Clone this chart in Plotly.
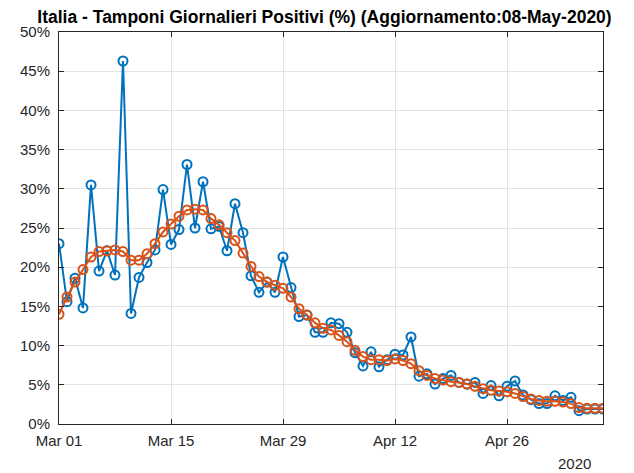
import pandas as pd
import plotly.graph_objects as go

start_date = "2020-03-01"
end_date = "2020-05-08"

daily_positive_pct = [
    23.0, 15.6, 18.6, 14.8, 30.5, 19.5, 22.1, 19.0, 46.3, 14.1,
    18.7, 20.6, 22.2, 29.9, 22.9, 24.8, 33.1, 25.0, 30.9, 24.9,
    25.2, 22.1, 28.1, 24.4, 18.9, 16.8, 18.1, 16.8, 21.3, 17.4,
    13.7, 13.9, 11.7, 11.7, 12.9, 12.8, 11.7, 9.1, 7.4, 9.2,
    7.3, 8.2, 8.9, 8.8, 11.1, 6.1, 6.4, 5.1, 5.8, 6.2,
    5.3, 5.1, 5.3, 3.9, 4.9, 3.6, 4.8, 5.5, 3.7, 3.1,
    2.6, 2.6, 3.6, 3.0, 3.4, 1.7, 1.9, 1.9, 1.9,
]

smoothed_pct = [
    14.0, 16.2, 18.1, 19.7, 21.3, 22.0, 22.1, 22.2, 22.0, 20.9,
    20.9, 21.7, 23.0, 24.5, 25.5, 26.5, 27.3, 27.4, 27.3, 26.2,
    25.4, 24.4, 23.4, 21.8, 20.1, 18.8, 18.1, 17.7, 17.3, 16.2,
    14.7, 13.9, 12.9, 12.2, 12.0, 11.3, 10.5, 9.4, 8.6, 8.2,
    8.2, 8.1, 8.3, 8.1, 7.7, 6.8, 6.2, 5.8, 5.6, 5.4,
    5.3, 5.1, 4.8, 4.5, 4.3, 4.2, 4.1, 3.9, 3.5, 3.2,
    3.0, 2.9, 2.9, 2.8, 2.6, 2.1, 2.0, 2.0, 2.0,
]

x_tick_dates = ["2020-03-01", "2020-03-15", "2020-03-29", "2020-04-12", "2020-04-26"]
x_tick_labels = ["Mar 01", "Mar 15", "Mar 29", "Apr 12", "Apr 26"]
y_tick_vals = [0, 5, 10, 15, 20, 25, 30, 35, 40, 45, 50]
y_tick_labels = [f"{v}%" for v in y_tick_vals]

dates = pd.date_range(start_date, end_date, freq="D")

BLUE = "#0072BD"
ORANGE = "#D95319"
AXC = "#262626"
GRID = "#e3e3e3"
FONT = "Liberation Sans, Arial, Helvetica, sans-serif"

# the page body has an 8px margin, so the figure is sized/placed to compensate
W, H = 626, 465

fig = go.Figure()
fig.add_trace(go.Scatter(
    x=dates, y=daily_positive_pct, mode="lines+markers",
    line=dict(color=BLUE, width=2),
    marker=dict(symbol="circle-open", size=9, color=BLUE, line=dict(width=2, color=BLUE)),
    showlegend=False,
))
fig.add_trace(go.Scatter(
    x=dates, y=smoothed_pct, mode="lines+markers",
    line=dict(color=ORANGE, width=2),
    marker=dict(symbol="circle-open", size=9, color=ORANGE, line=dict(width=2, color=ORANGE)),
    showlegend=False,
))

fig.update_layout(
    width=W, height=H,
    margin=dict(l=47, r=31, t=24, b=49, pad=0),
    paper_bgcolor="white", plot_bgcolor="white",
    font=dict(family=FONT, size=15, color=AXC),
    title=dict(
        text="<b>Italia - Tamponi Giornalieri Positivi (%) (Aggiornamento:08-May-2020)</b>",
        x=316.5 / W, xanchor="center", xref="container",
        y=1 - 9 / H, yanchor="middle", yref="container",
        font=dict(family=FONT, size=17.5, color="black"),
    ),
    xaxis=dict(
        range=[start_date, end_date],
        tickvals=x_tick_dates, ticktext=x_tick_labels,
        showgrid=True, gridcolor=GRID, gridwidth=1,
        showline=True, linecolor=AXC, linewidth=1, mirror="ticks",
        ticks="inside", ticklen=5, tickcolor=AXC,
        zeroline=False, ticklabelstandoff=3,
    ),
    yaxis=dict(
        range=[0, 50],
        tickvals=y_tick_vals, ticktext=y_tick_labels,
        showgrid=True, gridcolor=GRID, gridwidth=1,
        showline=True, linecolor=AXC, linewidth=1, mirror="ticks",
        ticks="inside", ticklen=5, tickcolor=AXC,
        zeroline=False, ticklabelstandoff=5,
    ),
    annotations=[dict(
        text="2020", x=(574 - 55) / 548, y=-(464 - 424) / 392,
        xref="paper", yref="paper", xanchor="center", yanchor="middle",
        showarrow=False, font=dict(family=FONT, size=15, color=AXC),
    )],
)

fig.write_html("out.html")
